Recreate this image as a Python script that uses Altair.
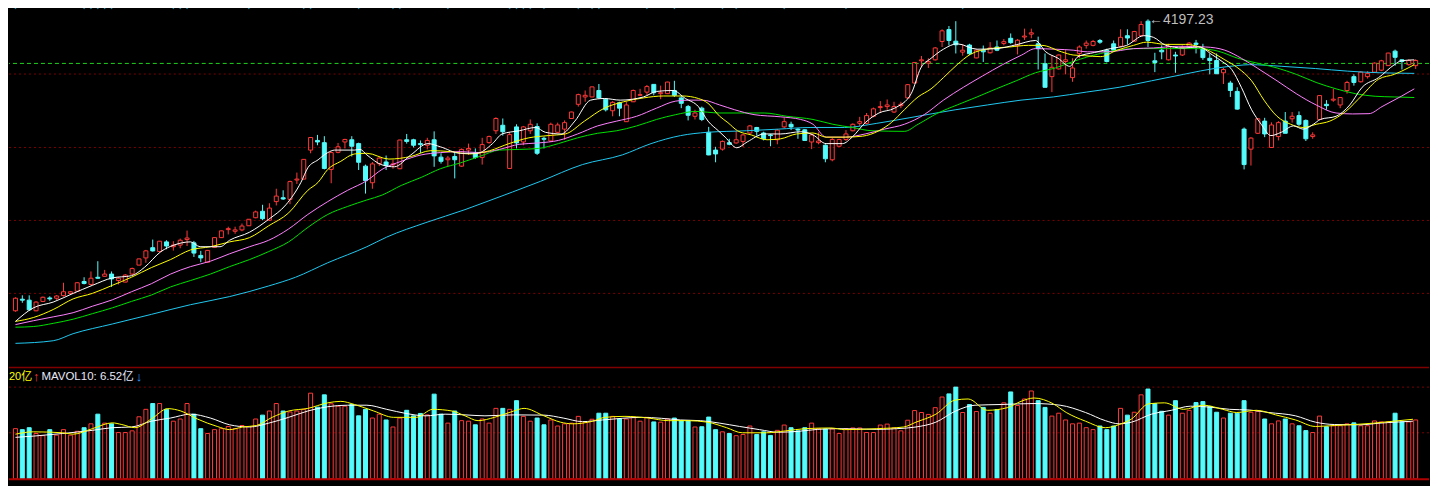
import altair as alt
import pandas as pd

# ---------------- data ----------------
open_ = [3594, 3618, 3616, 3594, 3613.4, 3620.6, 3620, 3625.4, 3630, 3634.6,
         3654.6, 3648.6, 3663.4, 3665.4, 3670, 3656.6, 3653.4, 3670, 3688.6, 3703.4,
         3724.6, 3716.6, 3736.6, 3726.6, 3730, 3741.4, 3734.6, 3708.6, 3694.6, 3725.4,
         3745.4, 3762, 3758.6, 3761.4, 3770, 3786.6, 3800, 3781.4, 3820, 3828,
         3824.6, 3864.6, 3866.6, 3926.6, 3946.6, 3942, 3886.6, 3922, 3943.4, 3948,
         3940, 3893.4, 3859, 3898.6, 3902, 3896, 3888, 3948, 3948, 3940,
         3936.6, 3948, 3912, 3906.6, 3913.4, 3893.4, 3926.6, 3920, 3911.4, 3942,
         3966.6, 3978, 3888.6, 3974.6, 3943.4, 3966.6, 3975.4, 3951, 3945.4, 3963.4,
         3970, 3992, 4021.4, 4036.6, 4036.6, 4050, 4032, 4008, 4024.6, 3985.4,
         4026.6, 4040, 4046.6, 4062.6, 4043.4, 4043.4, 4050, 4034.6, 4016.6, 3996.6,
         4013.4, 3963.4, 3926.6, 3928.6, 3942, 3941.4, 3944.6, 3962, 3973.4, 3962,
         3958, 3948, 3974.6, 3980, 3970, 3968.6, 3943.4, 3942, 3936.6, 3906.6,
         3934.6, 3948.6, 3966.6, 3982, 3982, 3996.6, 4014.6, 4016.6, 4005.4, 4018.6,
         4034.6, 4065.4, 4111.4, 4106.6, 4113.4, 4151.4, 4176, 4152, 4129.4, 4144,
         4117.4, 4133.4, 4128, 4140, 4147.4, 4158, 4143.4, 4160.6, 4166.6, 4146.6,
         4105.4, 4078.6, 4094.6, 4110, 4076.6, 4126.6, 4143.4, 4143.4, 4153.4, 4133.4,
         4146.6, 4141.4, 4163.4, 4152, 4163.4, 4193.4, 4111.4, 4133.4, 4113.4, 4123.4,
         4123.4, 4141.4, 4148, 4136.6, 4116.6, 4112, 4086.6, 4065.4, 4048, 3970,
         3928.6, 3961.4, 3986.6, 3932, 3954.6, 3986.6, 3991.4, 3998, 3988, 3954.6,
         3990, 4021.4, 4030, 4020, 4050, 4078.6, 4068, 4078.6, 4088, 4092,
         4101.4, 4131.4, 4113.4, 4103.4, 4101.4]

high = [3622, 3626, 3626, 3614, 3623.4, 3624, 3626.6, 3652, 3634.6, 3653.4,
        3663.4, 3675.4, 3696.6, 3678.6, 3675.4, 3663.4, 3670, 3683.4, 3702, 3720,
        3741.4, 3738.6, 3740, 3738, 3743.4, 3760, 3738.6, 3718, 3720, 3746,
        3760, 3768, 3768, 3774.6, 3784, 3801.4, 3813.4, 3816.6, 3846.6, 3843.4,
        3863.4, 3880, 3908, 3953.4, 3958, 3955.4, 3923.4, 3941.4, 3950, 3955.4,
        3942, 3896.6, 3902, 3912, 3915.4, 3906.6, 3948, 3960, 3950, 3946.6,
        3952, 3965.4, 3920, 3914.6, 3921.4, 3930, 3940, 3930, 3952, 3956.6,
        3994.6, 3992, 3963.4, 3980, 3976.6, 3990, 3982, 3954.6, 3983.4, 3983.4,
        3988, 4006, 4043.4, 4050, 4058, 4063.4, 4033.4, 4028, 4026.6, 4026.6,
        4052, 4053.4, 4061.4, 4063.4, 4060, 4068, 4070, 4040, 4020, 4010,
        4016.6, 3974.6, 3933.4, 3946.6, 3950, 3966.6, 3960, 3978.6, 3974.6, 3964.6,
        3960, 3970, 3993.4, 3985.4, 3972, 3970, 3960, 3963.4, 3938.6, 3951.4,
        3950, 3968, 3982, 3995.4, 4003.4, 4014.6, 4028, 4031.4, 4026.6, 4026.6,
        4063.4, 4108.6, 4121.4, 4116.6, 4140, 4176.6, 4183.4, 4193.4, 4145, 4146.6,
        4134.6, 4143, 4150, 4153.4, 4156.6, 4168, 4156.6, 4178, 4178, 4161.4,
        4126.6, 4123.4, 4124.6, 4133.4, 4116.6, 4143.4, 4153.4, 4154.6, 4156.6, 4136.6,
        4153.4, 4176.6, 4176.6, 4173.4, 4193.4, 4197.23, 4128, 4143.4, 4146.6, 4130,
        4143.4, 4150, 4154.6, 4146.6, 4126.6, 4126.6, 4096.6, 4070, 4056.6, 3973.4,
        3953.4, 3992, 3993.4, 3984, 3986.6, 4005.4, 4005.4, 4006.6, 3990, 3963.4,
        4040, 4030, 4053.4, 4036, 4070, 4083.4, 4090, 4090, 4108, 4113.4,
        4128, 4134.6, 4114.6, 4114.6, 4114.6]

low = [3592, 3610.6, 3594, 3593, 3612, 3614.6, 3616.6, 3623.4, 3628, 3633.4,
       3648.6, 3646.6, 3660, 3664.6, 3643.4, 3648.6, 3653, 3668, 3688, 3693.4,
       3716.6, 3716, 3721.4, 3718.6, 3723.4, 3728, 3705.4, 3694.6, 3694, 3724.6,
       3744.6, 3752, 3753.4, 3758.6, 3769.4, 3785.4, 3781.4, 3780, 3812, 3823.4,
       3814.6, 3856.6, 3866, 3920, 3936.6, 3886.6, 3858, 3920, 3930, 3913.4,
       3885.4, 3836.6, 3846.6, 3893.4, 3885.4, 3888, 3887, 3940, 3932, 3920,
       3928, 3892, 3898.6, 3893.4, 3868, 3892, 3916.6, 3908.6, 3896.6, 3940,
       3960, 3956.6, 3888, 3930, 3936.6, 3960, 3916.6, 3930, 3943.4, 3961.4,
       3948, 3991.4, 4016.6, 4026.6, 4036, 4033.4, 4006.6, 3996.6, 3996.6, 3985,
       4026, 4038.6, 4040, 4040, 4032, 4042.6, 4036.6, 4013.4, 3988, 3990,
       3986.6, 3916, 3901.4, 3925.4, 3936.6, 3940, 3933.4, 3960, 3956.6, 3946.6,
       3934.6, 3938.6, 3972, 3968, 3950, 3946, 3928.6, 3938.6, 3901.4, 3903.4,
       3933.4, 3945.4, 3965.4, 3976.6, 3980, 3994.6, 4003.4, 4010, 4003.4, 4013.4,
       4034, 4065, 4098, 4096.6, 4112, 4140, 4143.4, 4126.6, 4122, 4123.4,
       4116.6, 4109, 4126.6, 4131.4, 4143.4, 4146.6, 4124.6, 4154.6, 4158, 4093.4,
       4056, 4046.6, 4093.4, 4083.4, 4068, 4116.6, 4136.6, 4141.4, 4146.6, 4108,
       4130, 4140, 4145.4, 4151.4, 4161.4, 4140, 4088, 4114.6, 4112, 4086.6,
       4121.4, 4138.6, 4126.6, 4113.4, 4083.4, 4084, 4063.4, 4036.6, 4010, 3886.6,
       3894.6, 3960, 3953.4, 3931.4, 3946.6, 3961, 3983.4, 3976.6, 3945.4, 3950,
       3989.4, 4010, 4026.6, 4013.4, 4043.4, 4060, 4066.6, 4074.6, 4086.6, 4090,
       4101, 4101.4, 4093.4, 4101.4, 4094.6]

close = [3620, 3616, 3596, 3612, 3622, 3618.6, 3624.6, 3633.4, 3633.4, 3652,
         3650.6, 3661.4, 3661.4, 3670, 3660, 3661.4, 3668, 3681.4, 3701.4, 3718,
         3718, 3738, 3728, 3730, 3740, 3744.6, 3713.4, 3703.4, 3719, 3745.4,
         3759.4, 3764, 3761.4, 3769.4, 3783.4, 3798.6, 3784.6, 3806.6, 3831.4, 3825.4,
         3861.4, 3866.6, 3907.4, 3952.6, 3943.4, 3888.6, 3921.4, 3933.4, 3948.6, 3934.6,
         3901.4, 3863.4, 3898, 3910, 3894.6, 3898, 3947.4, 3944.6, 3936.6, 3938,
         3946.6, 3914.6, 3903.4, 3910, 3906.6, 3928, 3930, 3911.4, 3938, 3954.6,
         3992, 3964.6, 3958.6, 3941.4, 3974.6, 3980, 3920, 3949, 3980, 3978.6,
         3983.4, 4005.4, 4041.4, 4040, 4057.4, 4034.6, 4010, 4025.4, 4013.4, 4020,
         4050, 4041.4, 4058, 4045.4, 4045.4, 4067.4, 4040, 4023.4, 3998.6, 4003.4,
         3990, 3916.6, 3918.6, 3944.6, 3938.6, 3948, 3958, 3976.6, 3965.4, 3950,
         3956.6, 3968, 3985.4, 3974.6, 3968, 3946.6, 3958, 3945.4, 3908.6, 3948.6,
         3948.6, 3960, 3980, 3985.4, 3998, 4012, 4016.6, 4020, 4016.6, 4021.4,
         4062, 4108, 4113.4, 4110, 4138, 4173.4, 4153.4, 4144.6, 4133.4, 4126,
         4133.4, 4130, 4138, 4133.4, 4151, 4149, 4154, 4162.6, 4169.4, 4136.6,
         4056.6, 4098, 4123.4, 4113.4, 4096.6, 4140, 4148, 4151.4, 4150, 4110,
         4133.4, 4160, 4158.6, 4172, 4186.6, 4153.4, 4108, 4130, 4141.4, 4121.4,
         4138.6, 4148, 4145.4, 4118, 4112, 4084.6, 4093.4, 4050, 4011.4, 3896.6,
         3951.4, 3991.4, 3960, 3978.6, 3983.4, 3961.4, 3996.6, 3980, 3950, 3958,
         4039.4, 4018.6, 4032, 4035.4, 4066.6, 4066.6, 4088, 4085.4, 4106.6, 4111.4,
         4127.4, 4118.6, 4110, 4112, 4112]

volume = [5.72, 5.61, 5.83, 5.17, 4.92, 5.61, 4.98, 5.61, 4.98, 5.42,
          5.83, 6.27, 7.37, 6.35, 6.27, 5.28, 5.28, 5.47, 7.07, 7.92,
          8.58, 8.58, 7.92, 6.57, 6.82, 8.58, 7.37, 5.72, 5.17, 5.61,
          5.72, 5.97, 5.72, 6.08, 5.97, 6.82, 7.26, 7.73, 8.58, 7.73,
          7.62, 7.73, 7.92, 9.76, 8.17, 9.57, 8.55, 8.28, 8.28, 8.47,
          7.18, 7.92, 6.93, 7.37, 6.71, 5.91, 6.93, 7.81, 7.18, 7.45,
          7.29, 9.65, 7.37, 6.35, 7.73, 6.63, 6.57, 6.16, 6.82, 6.35,
          8.03, 8.03, 7.92, 8.91, 7.12, 6.57, 6.93, 6.16, 6.71, 6.02,
          6.27, 6.35, 7.12, 6.46, 6.79, 7.48, 7.48, 7.12, 6.82, 6.82,
          7.01, 6.57, 7.01, 6.49, 6.46, 6.82, 6.93, 6.63, 6.63, 5.91,
          5.94, 7.04, 5.61, 5.36, 5.17, 4.92, 5.06, 6.02, 5.06, 5.36,
          4.95, 5.53, 6.13, 5.83, 5.47, 5.83, 6.35, 5.72, 5.69, 5.69,
          5.17, 5.72, 5.8, 5.8, 5.28, 5.28, 6.13, 6.24, 5.8, 5.47,
          6.68, 7.78, 7.56, 7.34, 8.11, 9.32, 9.68, 10.45, 7.56, 8.47,
          7.67, 8.14, 7.48, 7.89, 8.66, 9.9, 8.36, 9.1, 10.01, 8.91,
          8.14, 7.15, 7.48, 6.71, 6.27, 6.35, 5.83, 5.61, 6.02, 5.61,
          6.02, 8.03, 7.26, 7.59, 9.57, 10.23, 8.58, 7.7, 7.26, 8.91,
          7.48, 7.81, 8.69, 8.8, 8.25, 7.59, 6.93, 7.48, 7.48, 8.91,
          7.59, 7.7, 6.82, 6.27, 6.6, 6.82, 6.27, 6.05, 5.5, 5.28,
          7.15, 5.94, 6.05, 6.05, 6.27, 6.38, 6.05, 6.05, 6.6, 6.49,
          6.49, 7.48, 6.49, 6.49, 6.71]

# moving-average lines, read as (candle index, value) points
ma5 = [(0, 3572), (2.6, 3600), (5.5, 3612), (8.4, 3630), (11.2, 3646.6), (14.1, 3662),
       (16.9, 3666.6), (18.8, 3684), (21.2, 3716.6), (23.1, 3730), (25.5, 3736.6),
       (26.9, 3726.6), (29.8, 3726.6), (31.2, 3740), (34.1, 3756.6), (36.9, 3783.4),
       (39.4, 3813.4), (41.6, 3860), (42.6, 3890), (44.1, 3906.6), (45.5, 3921.4),
       (46.5, 3926.6), (49.4, 3926.6), (50.2, 3928), (51.2, 3916.6), (53.4, 3896),
       (55.2, 3892), (57.6, 3916.6), (60.1, 3940), (61.9, 3933.4), (64.8, 3920),
       (67.2, 3920), (69.5, 3940), (70.9, 3960), (73.4, 3966.6), (75.8, 3973.4),
       (77.2, 3963.4), (79.5, 3960), (81.5, 3986.6), (83.8, 4030), (85.8, 4033.4),
       (88.1, 4030), (91.5, 4036.6), (93.4, 4048), (95.8, 4050), (97.6, 4033.4),
       (99.5, 4016.6), (100.9, 3986.6), (102.4, 3966.6), (103.4, 3953.4), (105.1, 3931.4),
       (106.6, 3943.4), (109.1, 3960), (111.5, 3960), (114.4, 3964.6), (116.2, 3958),
       (118.1, 3940), (120.5, 3940), (121.9, 3953.4), (123.8, 3983.4), (125.8, 4003.4),
       (128.1, 4013.4), (130.5, 4043.4), (131.9, 4096.6), (133.4, 4116.6), (135.2, 4135.4),
       (137.2, 4146.6), (140.1, 4135.4), (142.9, 4136.6), (145.8, 4144.6), (148.6, 4153.4),
       (150.1, 4130), (151.9, 4116.6), (153.6, 4100), (154.8, 4120), (157.2, 4128.6),
       (159.5, 4136.6), (161.9, 4143.4), (164.4, 4163.4), (165.8, 4160), (167.6, 4143.4),
       (170.1, 4138), (172.4, 4140), (174.4, 4123.4), (175.8, 4110), (177.2, 4093.4),
       (178.6, 4056.6), (180.1, 4010), (181.5, 3980), (182.9, 3956.6), (184.4, 3963.4),
       (186.2, 3976.6), (187.6, 3970), (189.1, 3980), (190.1, 3990), (192.4, 3996.6),
       (194.4, 4020), (196.2, 4056.6), (198.6, 4076.6), (200.9, 4103.4), (201.9, 4111.4),
       (203.8, 4113.4)]

ma10 = [(0, 3572), (2.6, 3580), (5.5, 3596.6), (8.4, 3618.6), (11.2, 3630), (14.1, 3646.6),
        (16.9, 3663.4), (19.8, 3683.4), (22.6, 3700), (25.5, 3720), (28.4, 3726.6),
        (31.2, 3736.6), (34.1, 3745.4), (36.9, 3770), (39.8, 3796.6), (42.6, 3843.4),
        (44.1, 3860), (45.5, 3886.6), (47.4, 3903.4), (49.4, 3918.6), (51.2, 3920),
        (54.4, 3908), (57.6, 3913.4), (60.5, 3925.4), (63.4, 3923.4), (66.2, 3918.6),
        (69.1, 3925.4), (71.9, 3940), (74.8, 3952), (77.6, 3956.6), (80.1, 3960),
        (82.9, 3986.6), (85.8, 4013.4), (88.6, 4026.6), (91.5, 4034.6), (94.4, 4038.6),
        (97.2, 4038.6), (99.5, 4033.4), (100.9, 4023.4), (102.6, 3996.6), (103.8, 3983.4),
        (105.2, 3966.6), (107.2, 3958), (109.5, 3948), (111.5, 3950), (113.8, 3960),
        (116.2, 3962), (118.1, 3953.4), (120.9, 3953.4), (123.4, 3955.4), (125.8, 3966.6),
        (127.6, 3983.4), (129.5, 4010), (131.5, 4036.6), (133.4, 4053.4), (135.2, 4076.6),
        (137.2, 4103.4), (139.1, 4124.6), (142, 4136.6), (144.8, 4140), (147.6, 4143.4),
        (149.5, 4143.4), (152.4, 4130), (154.1, 4123.4), (155.8, 4122), (158.1, 4120),
        (160.5, 4133.4), (162.9, 4143.4), (164.8, 4150), (167.6, 4145.4), (170.5, 4145.4),
        (173.4, 4135.4), (176.2, 4113.4), (178.1, 4096.6), (180.1, 4070), (181.9, 4030),
        (183.8, 3996.6), (185.8, 3980), (187.6, 3973.4), (189.5, 3980), (191.5, 3986.6),
        (193.8, 4006.6), (196.2, 4040), (198.6, 4073.4), (200.9, 4083.4), (202.9, 4096.6),
        (203.8, 4103.4)]

ma20 = [(0, 3565.4), (2.6, 3573.4), (5.5, 3581.4), (8.4, 3590), (11.2, 3603.4), (14.1, 3616.6),
        (16.9, 3633.4), (19.8, 3650), (22.6, 3670), (25.5, 3685.4), (28.4, 3696.6),
        (31.2, 3712), (34.1, 3726.6), (36.9, 3740), (39.8, 3763.4), (42.6, 3793.4),
        (45.5, 3820), (48.4, 3843.4), (51.2, 3863.4), (53.4, 3886.6), (56.2, 3903.4),
        (59.1, 3916.6), (61.9, 3921.4), (64.8, 3923.4), (67.6, 3921.4), (70.5, 3928),
        (73.4, 3938.6), (76.2, 3941.4), (79.1, 3946.6), (81.9, 3960), (84.8, 3976.6),
        (87.6, 3986.6), (90.5, 3996.6), (93.4, 4013.4), (96.2, 4028), (98.1, 4030),
        (100.1, 4030), (102.6, 4020), (104.8, 4010), (107.6, 4000), (111.5, 3995.4),
        (114.4, 3990), (116.2, 3980), (118.1, 3953.4), (120.9, 3953.4), (123.8, 3960),
        (126.6, 3970), (129.5, 3980), (132.4, 4000), (135.2, 4030), (138.1, 4056.6),
        (140.9, 4080), (143.8, 4103.4), (146.6, 4123.4), (148.6, 4136.6), (151.5, 4135.4),
        (154.1, 4133.4), (156.2, 4130), (159.1, 4130), (162.9, 4136.6), (165.8, 4138),
        (169.5, 4141.4), (173.4, 4140), (176.2, 4133.4), (178.6, 4116.6), (180.9, 4096.6),
        (183.8, 4070), (186.6, 4043.4), (189.5, 4020), (192.4, 4003.4), (194.8, 4001.4),
        (197.2, 4002), (199.1, 4016.6), (201.9, 4038), (203.8, 4053.4)]

ma30 = [(0, 3560), (2.6, 3561.4), (5.5, 3568), (8.4, 3576.6), (11.2, 3588), (14.1, 3600),
        (16.9, 3613.4), (19.8, 3626.6), (22.6, 3643.4), (25.5, 3656.6), (28.4, 3670),
        (31.2, 3685.4), (34.1, 3700), (36.9, 3716.6), (39.8, 3736.6), (42.6, 3766.6),
        (45.5, 3793.4), (48.4, 3810), (51.2, 3823.4), (53.4, 3833.4), (56.2, 3853.4),
        (59.1, 3870), (61.9, 3888), (64.8, 3900), (67.6, 3913.4), (70.5, 3926.6),
        (73.4, 3928), (76.2, 3930), (79.1, 3940), (81.9, 3952), (84.8, 3961.4),
        (87.6, 3966.6), (90.5, 3976.6), (93.4, 3990), (96.2, 4000), (99.1, 4006.6),
        (102.6, 4003.4), (109.1, 4003.4), (112.4, 3996.6), (116.2, 3990), (119.1, 3980),
        (121.9, 3973.4), (124.8, 3966.6), (129.5, 3965.4), (131.5, 3980), (134.4, 4003.4),
        (137.2, 4020), (140.1, 4036.6), (142.9, 4053.4), (145.8, 4070), (148.6, 4086.6),
        (151.5, 4096.6), (154.1, 4110), (158.1, 4126.6), (162.9, 4136.6), (167.6, 4136.6),
        (172.4, 4136.6), (175.2, 4131.4), (178.1, 4116.6), (180.9, 4106.6), (183.8, 4096.6),
        (186.6, 4083.4), (189.5, 4066.6), (192.4, 4053.4), (195.2, 4043.4), (198.1, 4038),
        (200.9, 4036.6), (203.8, 4035.4)]

ma60 = [(0, 3526.6), (5.5, 3532), (8.4, 3546.6), (14.1, 3566.6), (19.8, 3586.6),
        (25.5, 3606.6), (31.2, 3623.4), (36.9, 3645.4), (40.8, 3663.4), (45.5, 3693.4),
        (51.2, 3726.6), (54.1, 3746.6), (59.8, 3776.6), (65.5, 3803.4), (68.4, 3818.6),
        (76.5, 3862), (82.6, 3896.6), (88.4, 3916.6), (92.6, 3940), (96.9, 3956.6),
        (100.8, 3963.4), (106.5, 3966.6), (111.2, 3970), (115.9, 3973.4), (120.8, 3973.4),
        (125.5, 3982), (130.2, 3993.4), (136.9, 4010), (141.6, 4020), (146.5, 4030),
        (151.2, 4036.6), (156, 4046.6), (160.8, 4056.6), (165.5, 4070), (170.2, 4083.4),
        (175.1, 4096.6), (177.9, 4101.4), (179.8, 4103.4), (184.5, 4100), (189.4, 4095.4),
        (194.1, 4090), (198.8, 4086.6), (203.8, 4085.4)]

mavol5 = [(0, 5.09), (2.6, 5.36), (6.9, 5.25), (8.4, 5.09), (11.2, 5.72), (14.1, 6.38),
          (15.5, 6.19), (17.4, 5.83), (19.8, 6.82), (22.2, 8.0), (24.1, 7.73), (26.5, 6.82),
          (29.4, 5.97), (31.2, 5.61), (33.1, 5.91), (35.1, 6.08), (37.4, 7.01), (39.8, 7.73),
          (42.6, 8.03), (45.5, 8.66), (47.4, 8.83), (49.4, 8.47), (52.2, 7.73), (55.1, 7.01),
          (58.4, 7.01), (60.8, 7.92), (63.6, 7.73), (65.5, 7.18), (67.4, 6.63), (69.8, 7.01),
          (72.6, 7.73), (74.1, 8.03), (77, 7.18), (79.4, 6.46), (81.2, 6.27), (84.1, 6.57),
          (85.9, 7.01), (88.8, 7.12), (92.2, 6.93), (95.1, 6.63), (97.9, 6.63), (100.8, 6.46),
          (103.6, 5.83), (105.9, 5.25), (109.4, 5.25), (112.2, 5.47), (115.1, 5.72),
          (118.8, 5.8), (120.8, 5.61), (125.5, 5.72), (129.4, 5.91), (131.2, 6.46),
          (134.1, 7.37), (136.9, 8.97), (138.8, 9.1), (141.6, 7.81), (144.5, 8.11),
          (146.5, 8.83), (148.4, 9.21), (151.2, 8.55), (153.1, 7.56), (155.9, 6.57),
          (158.8, 5.83), (160.8, 6.19), (162.6, 6.82), (165.1, 8.55), (167.4, 8.66),
          (170.2, 7.92), (173.1, 8.39), (175.9, 7.92), (177.9, 7.56), (180.8, 7.81),
          (183.6, 7.29), (186.5, 6.71), (189.4, 5.97), (192.2, 6.08), (195.1, 6.19),
          (197.9, 6.35), (200.8, 6.57), (203.6, 6.79)]

mavol10 = [(0, 4.73), (2.6, 4.87), (6.9, 5.17), (11.2, 5.53), (14.1, 5.83), (16.9, 5.91),
           (19.8, 6.57), (22.6, 6.93), (25.5, 7.37), (28.4, 6.93), (31.2, 6.16), (34.1, 5.91),
           (36.9, 6.35), (39.8, 7.01), (42.6, 7.73), (45.5, 8.22), (48.4, 8.39), (51.2, 8.39),
           (54.1, 7.92), (56.9, 7.45), (59.8, 7.18), (62.6, 7.37), (65.5, 7.29), (68.4, 7.18),
           (72.6, 7.29), (77, 7.26), (79.8, 6.93), (82.6, 6.52), (85.5, 6.71), (88.4, 6.9),
           (91.2, 7.01), (94.1, 6.9), (96.9, 6.71), (99.8, 6.63), (102.6, 6.35), (105.5, 5.97),
           (108.4, 5.61), (111.2, 5.31), (114.1, 5.42), (116.9, 5.64), (119.8, 5.72),
           (122.6, 5.69), (125.5, 5.64), (128.4, 5.72), (131.2, 5.91), (134.1, 6.46),
           (136.9, 7.7), (139.8, 8.39), (143.6, 8.47), (148.4, 8.58), (152.2, 8.39),
           (155.9, 7.56), (158.8, 6.63), (160.8, 6.27), (162.6, 6.46), (165.5, 7.37),
           (168.4, 7.81), (171.2, 8.28), (174.1, 8.17), (176.9, 7.92), (179.8, 7.84),
           (182.6, 7.56), (186.5, 7.18), (189.4, 6.46), (192.2, 6.19), (195.9, 6.16),
           (198.8, 6.35), (203.6, 6.57)]

grid_prices = [4084, 3932, 3781, 3630]
last_price_level = 4106
vol_grid = [10.45, 5.25]
marker_idx = [0, 10, 11, 12, 13, 14, 23, 24, 25, 34, 42, 43, 50, 55, 56, 63, 72, 73, 74, 75,
              77, 82, 84, 85, 92, 96, 103, 105, 112, 121, 138]
max_label = "←4197.23"

# ---------------- styling ----------------
W, HT, HB = 1422, 359, 119
RED, CYAN = "#FF3838", "#54FCFC"
FONT = "Liberation Sans, Noto Sans CJK SC, sans-serif"
N = len(close)

candles = pd.DataFrame({"i": list(range(N)), "open": open_, "high": high,
                        "low": low, "close": close, "vol": volume})
candles["dir"] = ["up" if c >= o else "down" for o, c in zip(open_, close)]
candles["top"] = [max(o, c) for o, c in zip(open_, close)]
candles["bot"] = [min(o, c) for o, c in zip(open_, close)]

xs = alt.Scale(domain=[-1.5 / 7, 1436.5 / 7], nice=False, zero=False)
X = alt.X("i:Q", scale=xs, axis=None)
ps = alt.Scale(domain=[3478, 4220], nice=False, zero=False)
vs = alt.Scale(domain=[-0.77, 12.76], nice=False, zero=False)

base = alt.Chart(candles)
up = base.transform_filter("datum.dir == 'up'")
dn = base.transform_filter("datum.dir == 'down'")


def hline(values, scale, **mark):
    return alt.Chart(pd.DataFrame({"v": values})).mark_rule(**mark).encode(
        y=alt.Y("v:Q", scale=scale, axis=None))


def series_line(pts, scale, color):
    df = pd.DataFrame(pts, columns=["i", "v"])
    return alt.Chart(df).mark_line(strokeWidth=1, clip=True, interpolate="monotone",
                                   color=color).encode(
        x=X, y=alt.Y("v:Q", scale=scale, axis=None))


grid = hline(grid_prices, ps, color="#7A0000", strokeDash=[2, 3], strokeWidth=1)
lastline = hline([last_price_level], ps, color="#1ED21E", strokeDash=[4, 3], strokeWidth=1)

layers_top = [grid, lastline]
for sub, col in [(up, RED), (dn, CYAN)]:
    layers_top.append(sub.mark_rule(strokeWidth=1, clip=True, color=col).encode(
        x=X, y=alt.Y("high:Q", scale=ps, axis=None), y2="top:Q"))
    layers_top.append(sub.mark_rule(strokeWidth=1, clip=True, color=col).encode(
        x=X, y=alt.Y("bot:Q", scale=ps, axis=None), y2="low:Q"))
layers_top.append(up.mark_bar(filled=False, color=RED, strokeWidth=1, size=4, clip=True).encode(
    x=X, y=alt.Y("bot:Q", scale=ps, axis=None), y2="top:Q"))
layers_top.append(dn.mark_bar(color=CYAN, stroke=CYAN, strokeWidth=1, size=4, clip=True).encode(
    x=X, y=alt.Y("bot:Q", scale=ps, axis=None), y2="top:Q"))

for pts, col in [(ma60, "#20C8F0"), (ma30, "#00E000"), (ma20, "#FF80FF"),
                 (ma10, "#FFFF00"), (ma5, "#FFFFFF")]:
    layers_top.append(series_line(pts, ps, col))

markers = alt.Chart(pd.DataFrame({"i": marker_idx, "p": [4224] * len(marker_idx)})).mark_point(
    shape="diamond", filled=True, size=30, color="#30B8D8", opacity=1, clip=True).encode(
    x=X, y=alt.Y("p:Q", scale=ps, axis=None))
layers_top.append(markers)

imax = max(range(N), key=lambda k: high[k])
ann = alt.Chart(pd.DataFrame({"i": [imax], "p": [high[imax]], "t": [max_label]})).mark_text(
    align="left", baseline="middle", dx=1, dy=1, fontSize=14, font=FONT, color="#BEBEBE", clip=True).encode(
    x=X, y=alt.Y("p:Q", scale=ps, axis=None), text="t:N")
layers_top.append(ann)

top = alt.layer(*layers_top).properties(width=W, height=HT)

# ---------------- volume panel ----------------
layers_bot = [hline(vol_grid, vs, color="#7A0000", strokeDash=[2, 3], strokeWidth=1)]
layers_bot.append(up.mark_bar(filled=False, color=RED, strokeWidth=1, size=4, clip=True).encode(
    x=X, y=alt.Y("vol:Q", scale=vs, axis=None), y2=alt.datum(0)))
layers_bot.append(dn.mark_bar(color=CYAN, stroke=CYAN, strokeWidth=1, size=4, clip=True).encode(
    x=X, y=alt.Y("vol:Q", scale=vs, axis=None), y2=alt.datum(0)))
layers_bot.append(series_line(mavol10, vs, "#FFFFFF"))
layers_bot.append(series_line(mavol5, vs, "#FFFF00"))
layers_bot.append(hline([12.68], vs, color="#800000", strokeWidth=1.5))
layers_bot.append(hline([-0.05], vs, color="#B00000", strokeWidth=2))

leg_y = 10.5
legend_parts = [
    ("20亿", "#FFFF00", 0, 11, "normal"),
    ("↑", "#FF3838", 24, 13, "bold"),
    ("MAVOL10: 6.52亿", "#E8E8F8", 32.5, 11.5, "normal"),
    ("↓", "#2E9BFF", 127, 13, "bold"),
]
for txt, col, px, fs, fw in legend_parts:
    layers_bot.append(
        alt.Chart(pd.DataFrame({"t": [txt]})).mark_text(
            align="left", baseline="middle", fontSize=fs, font=FONT, color=col, clip=True,
            fontWeight=fw).encode(
            x=alt.value(px), y=alt.value(leg_y), text="t:N"))

bottom = alt.layer(*layers_bot).properties(width=W, height=HB)

chart = alt.vconcat(top, bottom, spacing=0, bounds="flush").properties(
    padding=0, background="#000000").configure_view(strokeWidth=0)

chart.save("out.html", embed_options={"renderer": "svg", "actions": False})
